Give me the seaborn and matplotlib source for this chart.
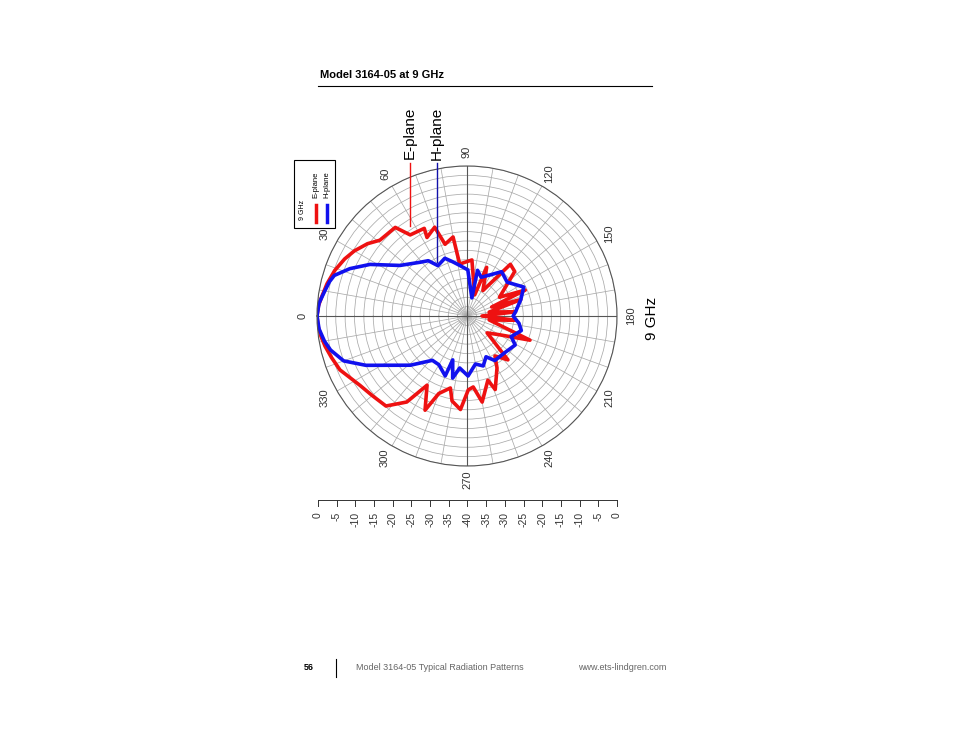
import numpy as np
import pandas as pd
import matplotlib
matplotlib.use("Agg")
import matplotlib.pyplot as plt
import seaborn as sns

plt.rcParams["font.family"] = ["Liberation Sans", "DejaVu Sans"]

e_angles = [0, 4, 8, 13, 19, 25, 30, 36, 41, 51, 55, 64, 63, 70, 73, 80, 82, 95, 110, 112, 122, 130, 137, 150, 156, 160, 163, 170, 175, 180,
            185, 190, 201, 210, 220, 227, 235, 240, 249, 252, 260, 265, 269, 274, 280, 283, 290, 294, 300, 305, 312, 320, 327, 337, 343, 348, 352, 356, 360]
e_db = [0, -0.3, -1, -1.7, -2.7, -4, -5.3, -7.2, -9.2, -9.6, -13.6, -14, -16.5, -14.8, -20, -18.6, -26, -25, -34, -26, -32, -22, -22.6, -30, -23, -33, -25, -34, -27, -36,
        -27, -34, -22, -30, -33, -24, -27, -24, -19, -22, -16.7, -21, -20.3, -15, -17, -20.3, -18, -12.5, -18.7, -12, -7.7, -7, -6, -3.2, -2.2, -1.3, -0.7, -0.2, 0]
h_angles = [0, 5, 10, 14, 17, 22, 28, 37, 49, 55, 60, 69, 75, 82, 91, 105, 103, 110, 119, 128, 140, 153, 163, 175, 180,
            188, 195, 205, 211, 225, 238, 245, 252, 260, 269, 278, 283, 288, 290, 300, 308, 319, 334, 340, 346, 350, 355, 360]
h_db = [0, -0.4, -1.5, -2.2, -3, -6.3, -10.7, -17.6, -21, -22, -24.5, -23.5, -25, -26.4, -27.7, -35, -27.5, -29, -27.5, -25, -26, -23, -25, -27, -27.7,
        -26, -25, -27, -25, -26, -26, -28, -26, -27, -24, -26, -23, -27.7, -23, -25, -25, -20, -10, -5, -2.5, -1.4, -0.4, 0]

fig = plt.figure(figsize=(9.54, 7.38), dpi=100)
fig.patch.set_facecolor("white")
W, H = 954, 738
def fx(x): return x / W
def fy(y): return 1 - y / H

cx, cy, R = 467, 316, 150
ax = fig.add_axes([fx(cx - R), fy(cy + R), 2 * R / W, 2 * R / H], projection="polar")
ax.set_theta_zero_location("W")
ax.set_theta_direction(-1)
ax.set_ylim(-40, 0)
ax.set_yticks(np.arange(-37.5, 0.1, 2.5))
ax.set_yticklabels([])
ax.set_thetagrids(range(0, 360, 10), labels=[])
ax.grid(color="#aaaaaa", linewidth=0.55)
ax.spines["polar"].set_color("#555555")
ax.spines["polar"].set_linewidth(0.8)
for a in [0, 90]:
    ax.plot([np.deg2rad(a), np.deg2rad(a)], [-40, 0], color="#555555", lw=0.8)
    ax.plot([np.deg2rad(a + 180), np.deg2rad(a + 180)], [-40, 0], color="#555555", lw=0.8)

df_e = pd.DataFrame({"t": np.deg2rad(e_angles), "r": e_db})
df_h = pd.DataFrame({"t": np.deg2rad(h_angles), "r": h_db})
sns.lineplot(data=df_e, x="t", y="r", sort=False, color="#ee1111", lw=2.6, ax=ax, estimator=None)
sns.lineplot(data=df_h, x="t", y="r", sort=False, color="#1111ee", lw=2.6, ax=ax, estimator=None)
ax.set_xlabel(""); ax.set_ylabel("")
ax.set_ylim(-40, 0)

for a in range(0, 360, 30):
    t = np.deg2rad(a)
    px = cx - (R + 14) * np.cos(t)
    py = cy - (R + 14) * np.sin(t)
    fig.text(fx(px), fy(py), str(a), rotation=90, ha="center", va="center", fontsize=8, color="#333333")

fig.text(fx(320), fy(75), "Model 3164-05 at 9 GHz", fontsize=8, fontweight="bold", va="center")
fig.add_artist(plt.Line2D([fx(318), fx(652)], [fy(86), fy(86)], color="black", lw=0.8))

fig.text(fx(410), fy(133), "E-plane", rotation=90, ha="center", va="center", fontsize=11)
fig.text(fx(437), fy(133), "H-plane", rotation=90, ha="center", va="center", fontsize=11)
fig.add_artist(plt.Line2D([fx(410), fx(410)], [fy(163), fy(226)], color="#ee1111", lw=1))
fig.add_artist(plt.Line2D([fx(437), fx(437)], [fy(163), fy(262)], color="#1111aa", lw=1))
fig.text(fx(652), fy(318), "9 GHz", rotation=90, ha="center", va="center", fontsize=11)

fig.add_artist(plt.Rectangle((fx(294), fy(228)), 41 / W, 68 / H, fill=False, lw=0.8, ec="black"))
fig.text(fx(302), fy(210), "9 GHz", rotation=90, ha="center", va="center", fontsize=5)
fig.add_artist(plt.Line2D([fx(316), fx(316)], [fy(205), fy(222)], color="#ee1111", lw=2.5))
fig.add_artist(plt.Line2D([fx(327), fx(327)], [fy(205), fy(222)], color="#1111ee", lw=2.5))
fig.text(fx(316), fy(185), "E-plane", rotation=90, ha="center", va="center", fontsize=5.5)
fig.text(fx(327), fy(185), "H-plane", rotation=90, ha="center", va="center", fontsize=5.5)

scale_vals = [0, -5, -10, -15, -20, -25, -30, -35, -40, -35, -30, -25, -20, -15, -10, -5, 0]
fig.add_artist(plt.Line2D([fx(318), fx(617)], [fy(500), fy(500)], color="#333333", lw=0.7))
for i, v in enumerate(scale_vals):
    x = 318 + i * (299 / 16)
    fig.add_artist(plt.Line2D([fx(x), fx(x)], [fy(500), fy(506)], color="#333333", lw=0.7))
    fig.text(fx(x), fy(512), str(v), rotation=90, ha="center", va="top", fontsize=7.5, color="#333333")

fig.text(fx(304), fy(668), "56", fontsize=6.5, fontweight="bold", va="center")
fig.add_artist(plt.Line2D([fx(336), fx(336)], [fy(659), fy(677)], color="black", lw=0.8))
fig.text(fx(356), fy(668), "Model 3164-05 Typical Radiation Patterns", fontsize=6.5, color="#666666", va="center")
fig.text(fx(578), fy(668), "www.ets-lindgren.com", fontsize=6.5, color="#666666", va="center")

fig.savefig("out.png", dpi=100, facecolor="white")
